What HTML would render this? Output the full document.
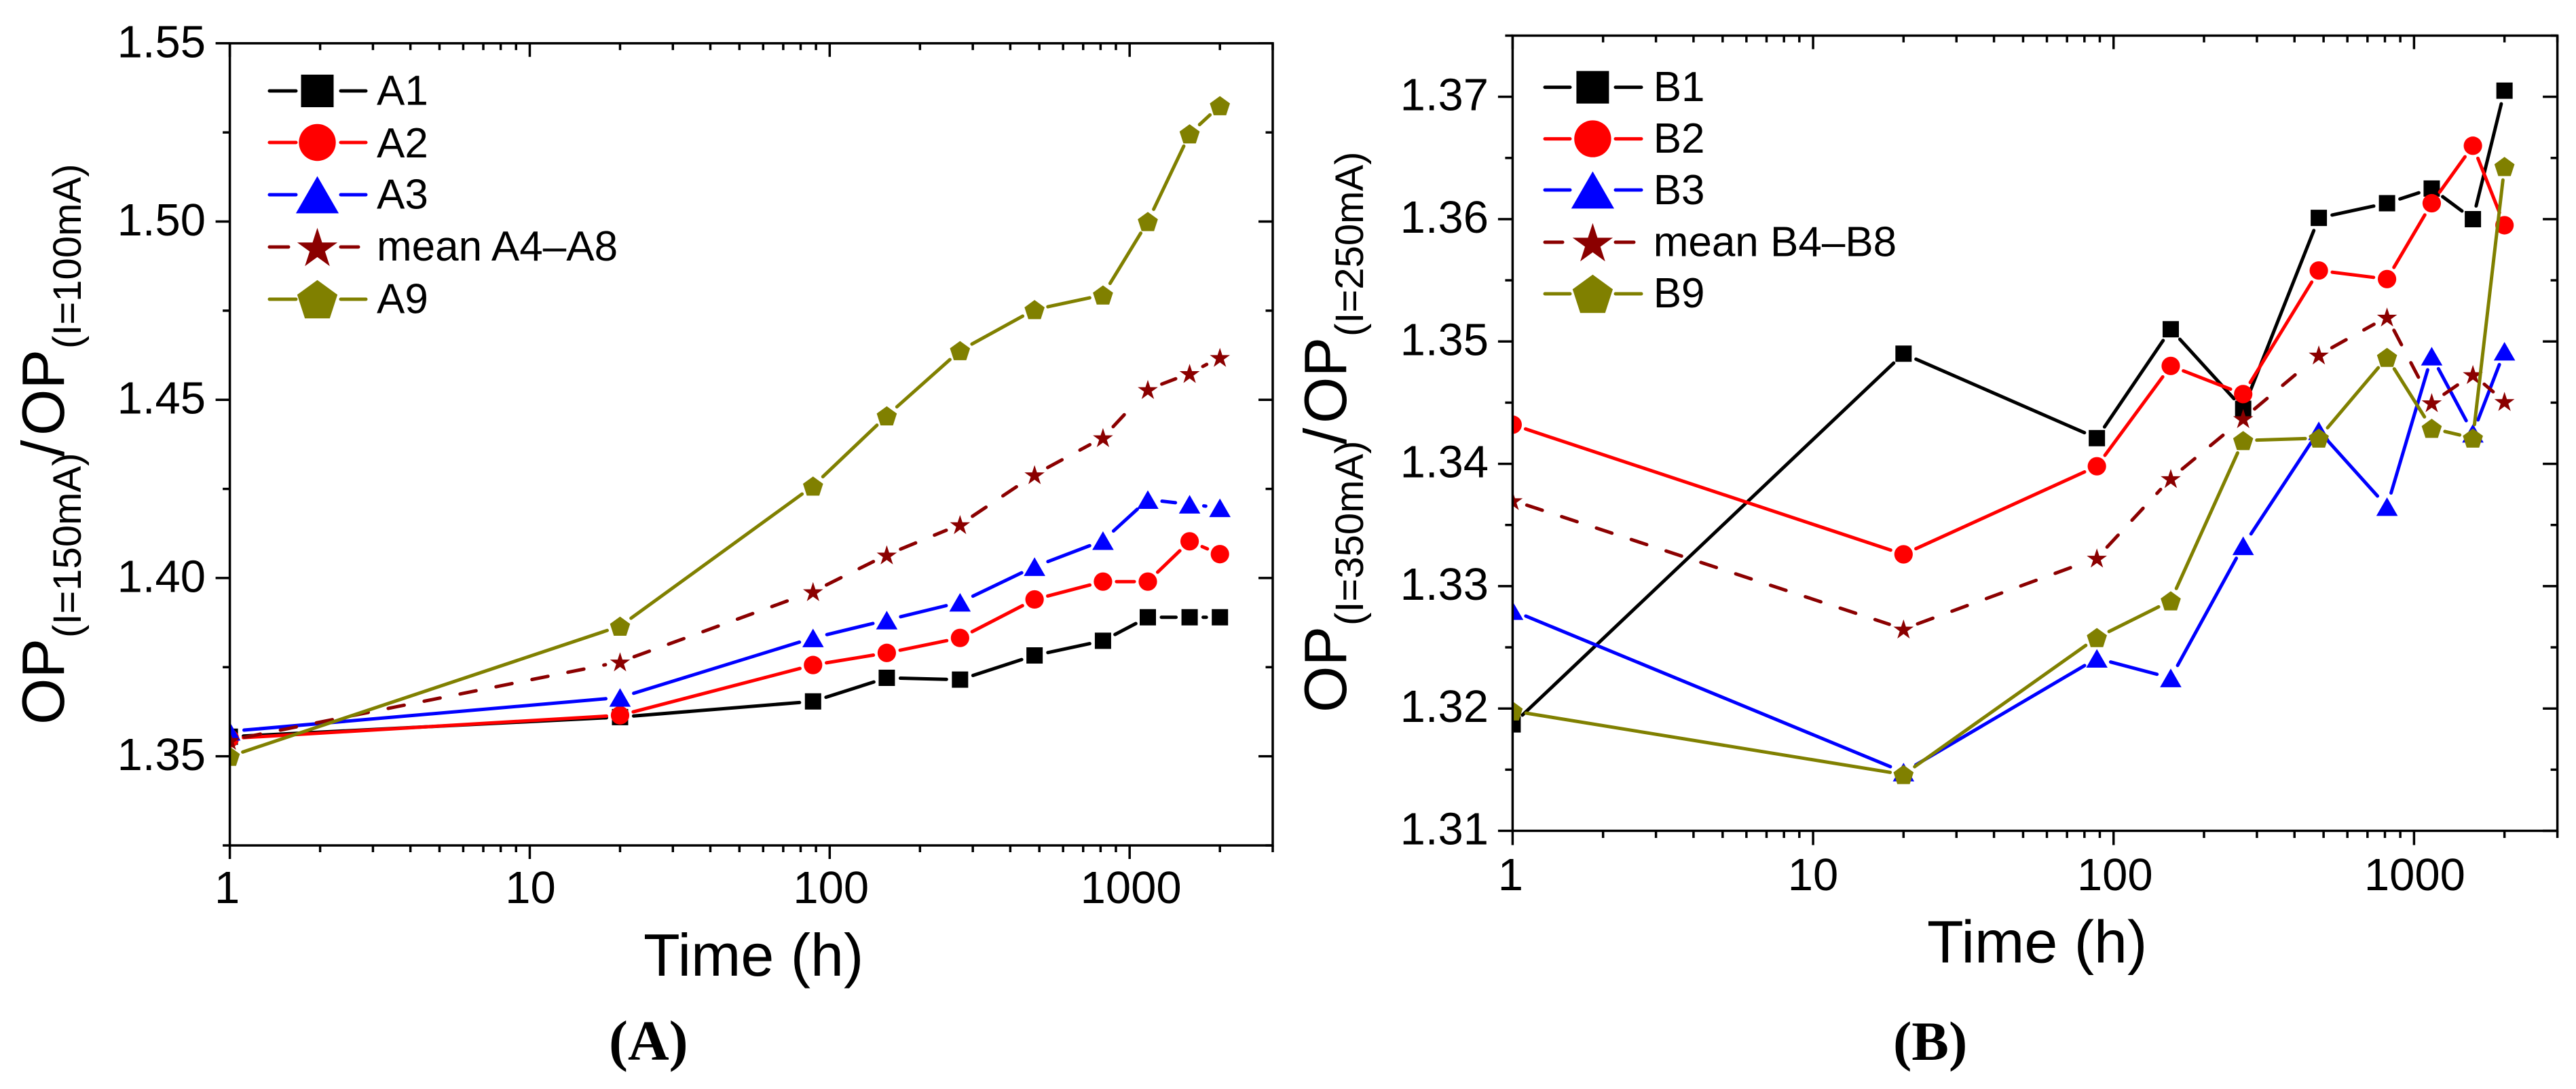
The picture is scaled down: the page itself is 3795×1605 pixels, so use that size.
<!DOCTYPE html>
<html lang="en">
<head>
<meta charset="utf-8">
<title>OP ratio versus time</title>
<style>
html,body{margin:0;padding:0;background:#fff;width:3795px;height:1605px;overflow:hidden}
svg{display:block}
text{font-family:"Liberation Sans",Arial,sans-serif;fill:#000}
.serif{font-family:"Liberation Serif","Times New Roman",serif;font-weight:bold}
.op{font-size:88px}
.sub{font-size:58px}
.time{font-size:88px}
.pl{font-size:84px}
</style>
</head>
<body>
<svg id="figure" xmlns="http://www.w3.org/2000/svg" width="3795" height="1605" viewBox="0 0 3795 1605">
  <defs>
    <clipPath id="clip-a"><rect x="338.6" y="40" width="1600" height="1230"/></clipPath>
    <clipPath id="clip-b"><rect x="2228.4" y="30" width="1600" height="1220"/></clipPath>
  </defs>
  <g id="panel-a"></g>
  <g id="panel-b"></g>

  <g>
    <text class="op" transform="translate(94,1068) rotate(-90)">OP</text>
    <text class="sub" transform="translate(119,940) rotate(-90)">(I=150mA)</text>
    <text class="op" transform="translate(94,673) rotate(-90)">/</text>
    <text class="op" transform="translate(94,642) rotate(-90)">OP</text>
    <text class="sub" transform="translate(119,514) rotate(-90)">(I=100mA)</text>
  </g>
  <text class="time" x="948" y="1438">Time (h)</text>
  <text class="serif pl" x="897" y="1562">(A)</text>

  <g>
    <text class="op" transform="translate(1983,1050) rotate(-90)">OP</text>
    <text class="sub" transform="translate(2008,922) rotate(-90)">(I=350mA)</text>
    <text class="op" transform="translate(1983,655) rotate(-90)">/</text>
    <text class="op" transform="translate(1983,624) rotate(-90)">OP</text>
    <text class="sub" transform="translate(2008,496) rotate(-90)">(I=250mA)</text>
  </g>
  <text class="time" x="2839" y="1418.6">Time (h)</text>
  <text class="serif pl" x="2789" y="1562" style="font-size:82px">(B)</text>
</svg>

<script>
// ---------- chart data ----------
const timeHoursA = [1, 20, 88, 155, 272, 482, 815, 1150, 1585, 2000];
const timeHoursB = [1, 20, 88, 155, 270, 482, 813, 1145, 1570, 2000];

const seriesA1 = [1.3555, 1.361, 1.3654, 1.372, 1.3715, 1.3783, 1.3824, 1.389, 1.389, 1.389];
const seriesA2 = [1.355, 1.3615, 1.3756, 1.379, 1.3832, 1.394, 1.399, 1.399, 1.4103, 1.4067];
const seriesA3 = [1.357, 1.3665, 1.3832, 1.3882, 1.3932, 1.4032, 1.4105, 1.422, 1.4207, 1.4197];
const seriesAMean = [1.3545, 1.3765, 1.3962, 1.4065, 1.415, 1.429, 1.4394, 1.4529, 1.4574, 1.4619];
const seriesA9 = [1.35, 1.3865, 1.4258, 1.4455, 1.4638, 1.4753, 1.4794, 1.5, 1.5246, 1.5325];

const seriesB1 = [1.3187, 1.349, 1.3421, 1.351, 1.3445, 1.3601, 1.3613, 1.3625, 1.36, 1.3705];
const seriesB2 = [1.3432, 1.3326, 1.3398, 1.348, 1.3457, 1.3558, 1.3551, 1.3613, 1.366, 1.3595];
const seriesB3 = [1.328, 1.3148, 1.3241, 1.3225, 1.3333, 1.3427, 1.3365, 1.3488, 1.3425, 1.3492];
const seriesBMean = [1.337, 1.3265, 1.3323, 1.3388, 1.3437, 1.3489, 1.352, 1.345, 1.3473, 1.3451];
const seriesB9 = [1.3198, 1.3146, 1.3258, 1.3288, 1.3419, 1.3421, 1.3487, 1.3429, 1.3421, 1.3643];

const legendNamesA = ['A1', 'A2', 'A3', 'mean A4\u2013A8', 'A9'];
const legendNamesB = ['B1', 'B2', 'B3', 'mean B4\u2013B8', 'B9'];

const yMajorTicksA = [1.35, 1.40, 1.45, 1.50, 1.55];
const yMajorLabelsA = ['1.35', '1.40', '1.45', '1.50', '1.55'];
const yMinorTicksA = [1.325, 1.375, 1.425, 1.475, 1.525];

const yMajorTicksB = [1.31, 1.32, 1.33, 1.34, 1.35, 1.36, 1.37];
const yMajorLabelsB = ['1.31', '1.32', '1.33', '1.34', '1.35', '1.36', '1.37'];
const yMinorTicksB = [1.315, 1.325, 1.335, 1.345, 1.355, 1.365, 1.375];

const xMajorTicks = [1, 10, 100, 1000];
const xMajorLabels = ['1', '10', '100', '1000'];
const xMinorTicks = [2, 3, 4, 5, 6, 7, 8, 9, 20, 30, 40, 50, 60, 70, 80, 90, 200, 300, 400, 500, 600, 700, 800, 900, 2000, 3000];

// ---------- layout and styles (not data) ----------
const NS = 'http://www.w3.org/2000/svg';
const seriesStyles = [
  {key: 'black-square', color: '#000000', shape: 'square', gap: 20, dash: null},
  {key: 'red-circle', color: '#ff0000', shape: 'circle', gap: 20, dash: null},
  {key: 'blue-triangle', color: '#0000ff', shape: 'triangle', gap: 21, dash: null},
  {key: 'darkred-star', color: '#8b0000', shape: 'star', gap: 22, dash: '24 30'},
  {key: 'olive-pentagon', color: '#808000', shape: 'pentagon', gap: 20, dash: null}
];

const panelA = {
  id: 'a', root: 'panel-a', clip: 'clip-a',
  left: 338.6, right: 1875, top: 63.8, bottom: 1246,
  xLogStart: 0, xLogEnd: Math.log10(3000),
  yMin: 1.325, yMax: 1.55,
  leftMajor: 21, leftMinor: 10.5, topMajor: 20, topMinor: 10, botMajor: 20, botMinor: 10,
  rightMajor: 21, rightMinor: 10.5,
  yLabelX: 303, yLabelDy: 20.5, xLabelY: 1331, xLabelShift: [-4, 1, 2, 2],
  legend: {x0: 397, x1: 539, cx: 467.5, gapL: 436, gapR: 502, textX: 555,
           rows: [134, 210, 287, 364, 441], base: [154.6, 232, 307.6, 384, 461.7]}
};
const panelB = {
  id: 'b', root: 'panel-b', clip: 'clip-b',
  left: 2228.4, right: 3767.6, top: 52.5, bottom: 1224.5,
  xLogStart: 0, xLogEnd: Math.log10(3000),
  yMin: 1.31, yMax: 1.375,
  leftMajor: 21.5, leftMinor: 11, topMajor: 20, topMinor: 10, botMajor: 21, botMinor: 10.5,
  rightMajor: 21.5, rightMinor: 10,
  yLabelX: 2193, yLabelDy: 20, xLabelY: 1312, xLabelShift: [-3, 0, 2, 1],
  legend: {x0: 2276, x1: 2418, cx: 2346.4, gapL: 2313, gapR: 2380, textX: 2435.7,
           rows: [128.6, 204.6, 280, 357, 433], base: [149, 225, 301, 377.5, 453]}
};

function create(tag, attrs, parent) {
  const el = document.createElementNS(NS, tag);
  for (const k in attrs) el.setAttribute(k, attrs[k]);
  parent.appendChild(el);
  return el;
}
function xScale(p, t) {
  return p.left + (Math.log10(t) - p.xLogStart) / (p.xLogEnd - p.xLogStart) * (p.right - p.left);
}
function yScale(p, v) {
  return p.bottom - (v - p.yMin) / (p.yMax - p.yMin) * (p.bottom - p.top);
}
function fmt(n) { return n.toFixed(2); }

function markerPoints(shape, cx, cy, k) {
  const pts = [];
  if (shape === 'square') {
    const h = 12 * k;
    return [[cx - h, cy - h], [cx + h, cy - h], [cx + h, cy + h], [cx - h, cy + h]];
  }
  if (shape === 'triangle') {
    return [[cx, cy - 13.7 * k], [cx + 15.8 * k, cy + 13.7 * k], [cx - 15.8 * k, cy + 13.7 * k]];
  }
  const R = 15.6 * k;
  const oy = cy + 0.095 * R;
  if (shape === 'pentagon') {
    for (let i = 0; i < 5; i++) {
      const a = -Math.PI / 2 + i * 2 * Math.PI / 5;
      pts.push([cx + R * Math.cos(a), oy + R * Math.sin(a)]);
    }
    return pts;
  }
  for (let i = 0; i < 10; i++) {
    const a = -Math.PI / 2 + i * Math.PI / 5;
    const r = i % 2 === 0 ? R : R * 0.382;
    pts.push([cx + r * Math.cos(a), oy + r * Math.sin(a)]);
  }
  return pts;
}
function drawMarker(parent, style, cx, cy, k) {
  let el;
  if (style.shape === 'circle') {
    el = create('circle', {cx: fmt(cx), cy: fmt(cy), r: 13.6 * k, fill: style.color}, parent);
  } else {
    const pts = markerPoints(style.shape, cx, cy, k).map(function (q) { return fmt(q[0]) + ',' + fmt(q[1]); }).join(' ');
    el = create('polygon', {points: pts, fill: style.color}, parent);
  }
  return el;
}
function drawTick(group, x1, y1, x2, y2, name) {
  const el = create('line', {x1: fmt(x1), y1: fmt(y1), x2: fmt(x2), y2: fmt(y2), stroke: '#000', 'stroke-width': 3.5}, group);
  
  
}

function drawAxes(p, parent, yMaj, yLab, yMin) {
  const axes = create('g', {}, parent);
  
  

  const frame = create('rect', {x: p.left, y: p.top, width: p.right - p.left, height: p.bottom - p.top, fill: 'none', stroke: '#000', 'stroke-width': 3.5}, axes);
  
  

  yMaj.forEach(function (v, i) {
    const y = yScale(p, v);
    drawTick(axes, p.left - p.leftMajor, y, p.left, y, 'y-major-tick-left');
    drawTick(axes, p.right - p.rightMajor, y, p.right, y, 'y-major-tick-right');
    const t = create('text', {x: p.yLabelX, y: fmt(y + p.yLabelDy), 'text-anchor': 'end', 'font-size': 67}, axes);
    t.textContent = yLab[i];
    
    
  });
  yMin.forEach(function (v) {
    const y = yScale(p, v);
    drawTick(axes, p.left - p.leftMinor, y, p.left, y, 'y-minor-tick-left');
    drawTick(axes, p.right - p.rightMinor, y, p.right, y, 'y-minor-tick-right');
  });
  xMajorTicks.forEach(function (v, i) {
    const x = xScale(p, v);
    drawTick(axes, x, p.bottom, x, p.bottom + p.botMajor, 'x-major-tick-bottom');
    drawTick(axes, x, p.top, x, p.top + p.topMajor, 'x-major-tick-top');
    const t = create('text', {x: fmt(x + p.xLabelShift[i]), y: p.xLabelY, 'text-anchor': 'middle', 'font-size': 67}, axes);
    t.textContent = xMajorLabels[i];
    
    
  });
  xMinorTicks.forEach(function (v) {
    const x = xScale(p, v);
    drawTick(axes, x, p.bottom, x, p.bottom + p.botMinor, 'x-minor-tick-bottom');
    drawTick(axes, x, p.top, x, p.top + p.topMinor, 'x-minor-tick-top');
  });
}

function drawSeries(p, parent, times, values, style, name) {
  const g = create('g', {'clip-path': 'url(#' + p.clip + ')'}, parent);
  
  

  const pts = values.map(function (v, i) { return [xScale(p, times[i]), yScale(p, v)]; });
  for (let i = 0; i < pts.length - 1; i++) {
    const a = pts[i], b = pts[i + 1];
    const dx = b[0] - a[0], dy = b[1] - a[1];
    const len = Math.hypot(dx, dy);
    if (len <= style.gap * 2) continue;
    const ux = dx / len, uy = dy / len;
    const attrs = {
      x1: fmt(a[0] + ux * style.gap), y1: fmt(a[1] + uy * style.gap),
      x2: fmt(b[0] - ux * style.gap), y2: fmt(b[1] - uy * style.gap),
      stroke: style.color, 'stroke-width': 5, 'stroke-linecap': 'round'
    };
    if (style.dash) attrs['stroke-dasharray'] = style.dash;
    const seg = create('line', attrs, g);
    
    
  }
  pts.forEach(function (q) {
    const m = drawMarker(g, style, q[0], q[1], 1);
    
    
  });
}

function drawLegend(p, parent, names) {
  const L = p.legend;
  const g = create('g', {}, parent);
  
  
  names.forEach(function (label, i) {
    const st = seriesStyles[i];
    const row = create('g', {}, g);
    
    
    const y = L.rows[i];
    const leftEnd = st.dash ? L.gapL - 11 : L.gapL;
    const rightEnd = st.dash ? L.x1 - 11 : L.x1;
    const l1 = create('line', {x1: L.x0, y1: y, x2: leftEnd, y2: y, stroke: st.color, 'stroke-width': 5, 'stroke-linecap': 'round'}, row);
    
    
    const l2 = create('line', {x1: L.gapR, y1: y, x2: rightEnd, y2: y, stroke: st.color, 'stroke-width': 5, 'stroke-linecap': 'round'}, row);
    
    
    const m = drawMarker(row, st, L.cx, y, 2);
    
    
    const t = create('text', {x: L.textX, y: L.base[i], 'font-size': 62}, row);
    t.textContent = label;
    
    
  });
}

function drawPanel(p, times, allSeries, names, yMaj, yLab, yMin) {
  const root = document.getElementById(p.root);
  allSeries.forEach(function (vals, i) {
    drawSeries(p, root, times, vals, seriesStyles[i], names[i].replace(/[^A-Za-z0-9]+/g, '-').toLowerCase());
  });
  drawAxes(p, root, yMaj, yLab, yMin);
  drawLegend(p, root, names);
}

drawPanel(panelA, timeHoursA, [seriesA1, seriesA2, seriesA3, seriesAMean, seriesA9], legendNamesA, yMajorTicksA, yMajorLabelsA, yMinorTicksA);
drawPanel(panelB, timeHoursB, [seriesB1, seriesB2, seriesB3, seriesBMean, seriesB9], legendNamesB, yMajorTicksB, yMajorLabelsB, yMinorTicksB);
</script>
</body>
</html>
